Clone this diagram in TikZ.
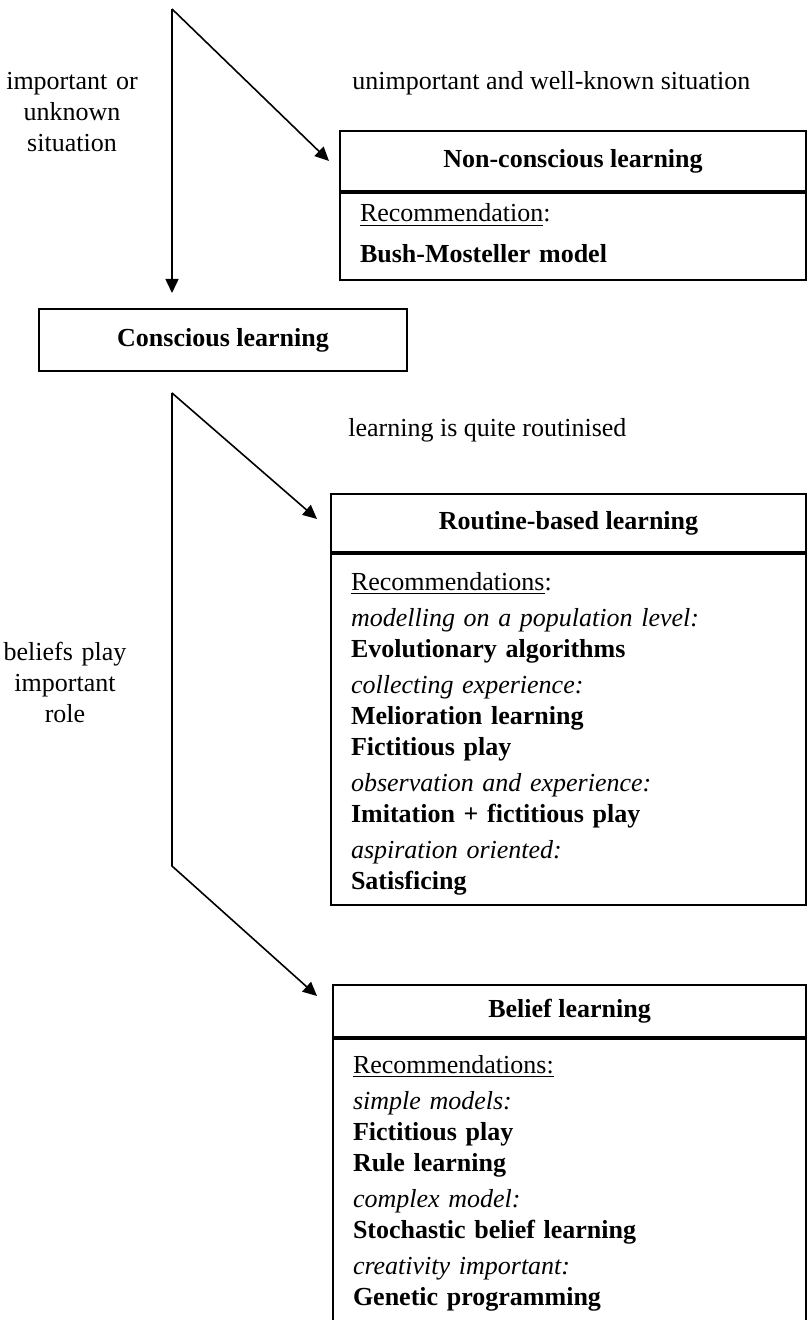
\documentclass[tikz,border=0pt]{standalone}
\usepackage{fontspec}
\setmainfont{Liberation Serif}
\usetikzlibrary{arrows.meta}

\begin{document}
\begin{tikzpicture}[x=0.5pt,y=-0.5pt,
  lbl/.style={font=\fontsize{13}{15.5}\selectfont,inner sep=0pt},
  head/.style={draw,line width=1pt,font=\fontsize{13}{15.5}\selectfont\bfseries,
    inner sep=0pt,anchor=north west},
  body/.style={draw,line width=1pt,font=\fontsize{13}{15.5}\selectfont,
    align=left,inner xsep=10pt,inner ysep=0pt,anchor=north west},
  arr/.style={-{Triangle[length=7pt,width=6.5pt]},line width=0.8pt}]

  \useasboundingbox (0,0) rectangle (807,1320);

  % learning types
  \node[head,minimum width=233pt,minimum height=30pt] (ncTitle) at (339,130) {Non-conscious learning};
  \node[body,text width=213pt,text height=14.5pt,text depth=29pt] (ncBody) at (ncTitle.south west)
    {\underline{Recommendation}:\\[5pt]
     \textbf{Bush-Mosteller model}};

  \node[head,minimum width=184pt,minimum height=31pt] (cons) at (38,308) {Conscious learning};

  \node[head,minimum width=237.5pt,minimum height=29pt] (rtTitle) at (330,493) {Routine-based learning};
  \node[body,text width=217.5pt,text height=18pt,text depth=157.5pt] (rtBody) at (rtTitle.south west)
    {\underline{Recommendations}:\\[2.5pt]
     \textit{modelling on a population level:}\\
     \textbf{Evolutionary algorithms}\\[2.5pt]
     \textit{collecting experience:}\\
     \textbf{Melioration learning}\\
     \textbf{Fictitious play}\\[2.5pt]
     \textit{observation and experience:}\\
     \textbf{Imitation + fictitious play}\\[2.5pt]
     \textit{aspiration oriented:}\\
     \textbf{Satisficing}};

  \node[head,minimum width=236.5pt,minimum height=26pt] (blTitle) at (332,984) {Belief learning};
  \node[body,text width=216.5pt,text height=17pt,text depth=124.5pt] (blBody) at (blTitle.south west)
    {\underline{Recommendations:}\\[2.5pt]
     \textit{simple models:}\\
     \textbf{Fictitious play}\\
     \textbf{Rule learning}\\[2.5pt]
     \textit{complex model:}\\
     \textbf{Stochastic belief learning}\\[2.5pt]
     \textit{creativity important:}\\
     \textbf{Genetic programming}};

  % conditions
  \node[lbl,align=center,text width=70pt,anchor=base] (lblImp) at (72,90) {important or\\unknown\\situation};
  \node[lbl,anchor=base west] (lblUnimp) at (352,90) {unimportant and well-known situation};
  \node[lbl,anchor=base west] (lblRout) at (348,437) {learning is quite routinised};
  \node[lbl,align=center,text width=70pt,anchor=base] (lblBel) at (65,660) {beliefs play\\important\\role};

  % forks
  \coordinate (fork1) at (172,9);
  \coordinate (fork2) at (172,393);
  \coordinate (bend) at (172,866);

  \draw[arr] (fork1) -- ([xshift=-5pt]ncTitle.west);
  \draw[arr] (fork1) -- ([yshift=7.5pt]cons.north -| fork1);
  \draw[arr] (fork2) -- ([xshift=-6.5pt,yshift=2pt]rtTitle.west);
  \draw[arr] (fork2) -- (bend) -- ([xshift=-7.5pt,yshift=7.5pt]blTitle.west);
\end{tikzpicture}
\end{document}
